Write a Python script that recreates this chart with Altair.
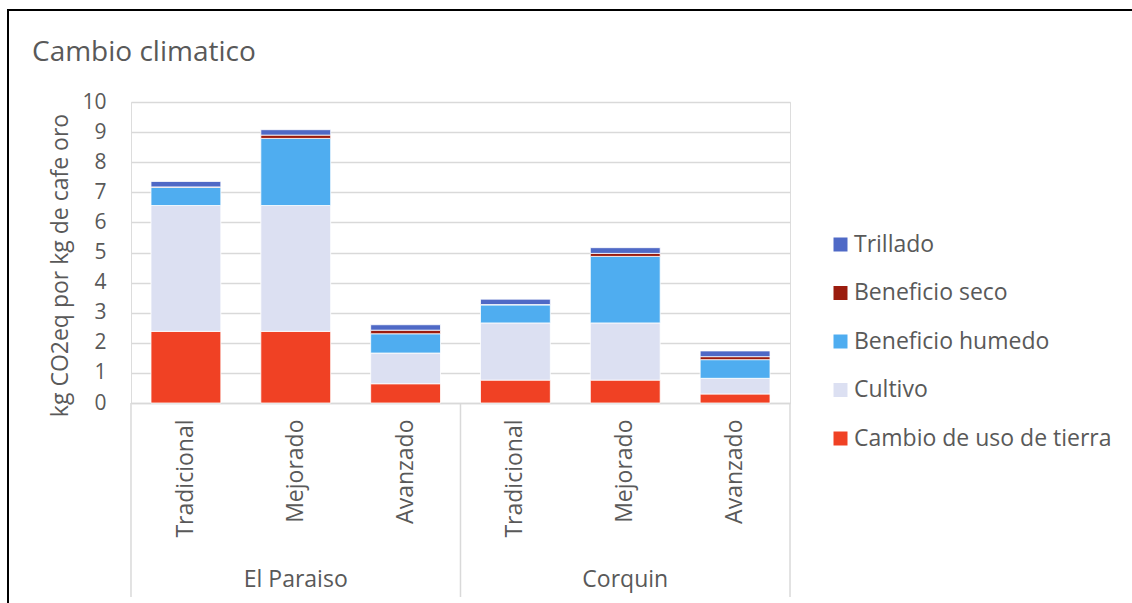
import altair as alt
import pandas as pd

regions = ["El Paraiso", "El Paraiso", "El Paraiso", "Corquin", "Corquin", "Corquin"]
systems = ["Tradicional", "Mejorado", "Avanzado", "Tradicional", "Mejorado", "Avanzado"]

series = ["Cambio de uso de tierra", "Cultivo", "Beneficio humedo", "Beneficio seco", "Trillado"]
cambio = [2.38, 2.38, 0.64, 0.76, 0.76, 0.30]
cultivo = [4.18, 4.18, 1.02, 1.90, 1.90, 0.52]
humedo = [0.61, 2.23, 0.64, 0.60, 2.21, 0.62]
seco = [0.01, 0.11, 0.12, 0.01, 0.10, 0.10]
trillado = [0.18, 0.18, 0.18, 0.18, 0.19, 0.19]
values = [cambio, cultivo, humedo, seco, trillado]

colors = ["#F04124", "#DCE0F2", "#4FADF0", "#9B1C0E", "#4F69C6"]
legend_order = ["Trillado", "Beneficio seco", "Beneficio humedo", "Cultivo", "Cambio de uso de tierra"]
legend_colors = [colors[series.index(s)] for s in legend_order]
y_ticks = [0, 1, 2, 3, 4, 5, 6, 7, 8, 9, 10]

cats = [f"{r}|{s}" for r, s in zip(regions, systems)]

rows = []
for si, (name, vals) in enumerate(zip(series, values)):
    for c, v in zip(cats, vals):
        rows.append({"cat": c, "serie": name, "valor": v, "ord": si})
df = pd.DataFrame(rows)

W, H = 659, 301
FONT = "Open Sans"
GRAY = "#595959"

xscale = alt.Scale(domain=cats, paddingInner=0.364, paddingOuter=0.182)

bars = alt.Chart(df).mark_bar(stroke="white", strokeWidth=0.8).encode(
    x=alt.X("cat:N", scale=xscale, sort=cats,
            axis=alt.Axis(title=None, labelAngle=270, labelPadding=16, labelFontSize=23,
                          labelColor=GRAY, labelFont=FONT, ticks=False,
                          domainColor="#D9D9D9", domainWidth=1.5,
                          labelExpr="split(datum.label, '|')[1]")),
    y=alt.Y("valor:Q", stack="zero",
            scale=alt.Scale(domain=[0, 10], nice=False),
            axis=alt.Axis(title="kg CO2eq por kg de cafe oro", values=y_ticks,
                          labelOverlap=False, domain=False, ticks=False, labelPadding=25,
                          labelFontSize=21, labelColor=GRAY, labelFont=FONT,
                          gridColor="#D9D9D9", gridWidth=1.5,
                          titleFont=FONT, titleFontSize=23, titleFontWeight="normal",
                          titleColor=GRAY, titleX=-71, titleY=163, titleAngle=270,
                          titleBaseline="middle", titleAlign="center")),
    color=alt.Color("serie:N", scale=alt.Scale(domain=legend_order, range=legend_colors),
                    legend=alt.Legend(title=None, orient="none", legendX=698, legendY=131,
                                      symbolType="square", symbolSize=196, symbolStrokeWidth=0,
                                      labelFontSize=23, labelFont=FONT, labelColor=GRAY,
                                      rowPadding=24.5, labelOffset=2, labelLimit=400)),
    order=alt.Order("ord:Q", sort="ascending"),
)

sep_cats = [cats[0], cats[3], cats[5]]
sep_bp = [0, 0, 1]
sep_off = [-20, -20, 20]
seps = []
for c, bp, off in zip(sep_cats, sep_bp, sep_off):
    seps.append(
        alt.Chart(pd.DataFrame({"cat": [c]})).mark_rule(
            color="#D9D9D9", strokeWidth=1.5, xOffset=off).encode(
            x=alt.X("cat:N", scale=xscale, sort=cats, bandPosition=bp),
            y=alt.value(H), y2=alt.value(495))
    )

grp_df = pd.DataFrame({"cat": [cats[1], cats[4]], "grupo": ["El Paraiso", "Corquin"]})
grp = alt.Chart(grp_df).mark_text(fontSize=23, font=FONT, color=GRAY, baseline="middle").encode(
    x=alt.X("cat:N", scale=xscale, sort=cats), y=alt.value(478), text="grupo:N")

title_df = pd.DataFrame({"t": ["Cambio climatico"]})
title = alt.Chart(title_df).mark_text(fontSize=28, font=FONT, color=GRAY, align="left",
                                      baseline="alphabetic").encode(
    x=alt.value(-99), y=alt.value(-41), text="t:N")

frame = alt.Chart(title_df).mark_rect(filled=False, stroke="black", strokeWidth=2).encode(
    x=alt.value(-123), y=alt.value(-92), x2=alt.value(1010), y2=alt.value(510))

chart = alt.layer(frame, bars, *seps, grp, title).properties(
    width=W, height=H,
    autosize=alt.AutoSizeParams(type="none"),
    padding={"left": 131, "top": 102, "right": 342, "bottom": 200},
).configure_view(stroke=None).configure(background="white")

chart.save("out.html", embed_options={"renderer": "svg", "actions": False})
